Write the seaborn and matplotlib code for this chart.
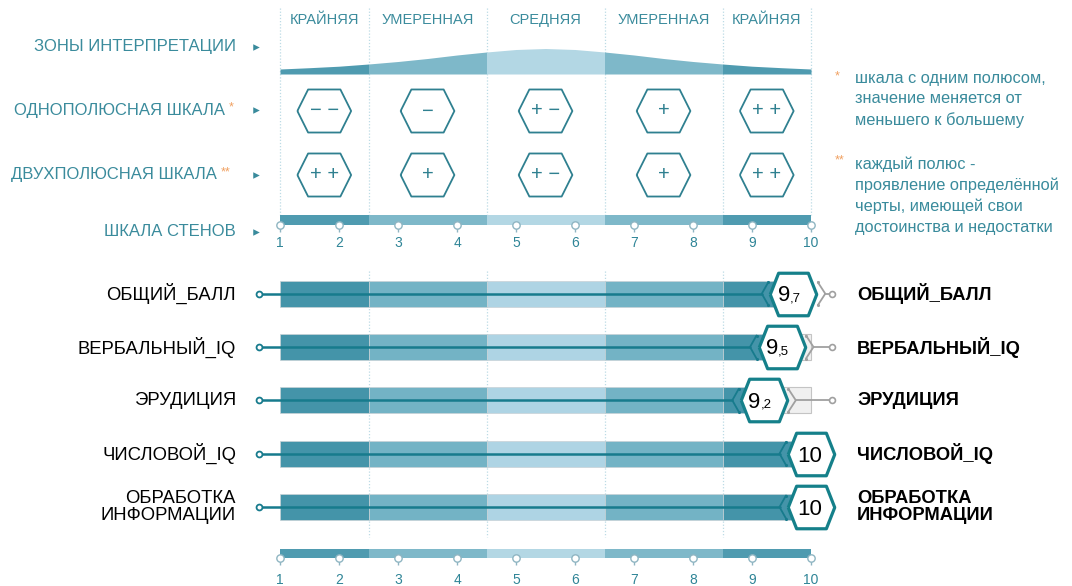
import matplotlib.pyplot as plt
import seaborn as sns

# ============================================================================
# DATA
# ============================================================================
stens = [1, 2, 3, 4, 5, 6, 7, 8, 9, 10]
zone_names = ["КРАЙНЯЯ", "УМЕРЕННАЯ", "СРЕДНЯЯ", "УМЕРЕННАЯ", "КРАЙНЯЯ"]
zone_edges = [1, 2.5, 4.5, 6.5, 8.5, 10]
unipolar_signs = ["− −", "−", "+ −", "+", "+ +"]
bipolar_signs = ["+ +", "+", "+ −", "+", "+ +"]

# bell curve of the interpretation zones (height)
curve_x = [1, 1.5, 2, 2.5, 3, 3.5, 4, 4.5, 5, 5.5, 6, 6.5, 7, 7.5, 8, 8.5, 9, 9.5, 10]
curve_h = [5, 6.3, 7.8, 10, 12.5, 15.5, 19, 22, 24.5, 25.5, 24.5, 22, 19, 15.5, 12.5, 10, 7.8, 6.3, 5]

legend_rows = ["ЗОНЫ ИНТЕРПРЕТАЦИИ", "ОДНОПОЛЮСНАЯ ШКАЛА", "ДВУХПОЛЮСНАЯ ШКАЛА", "ШКАЛА СТЕНОВ"]
legend_marks = ["", "*", "**", ""]
note_one = "шкала с одним полюсом,\nзначение меняется от\nменьшего к большему"
note_two = "каждый полюс -\nпроявление определённой\nчерты, имеющей свои\nдостоинства и недостатки"

scale_names = ["ОБЩИЙ_БАЛЛ", "ВЕРБАЛЬНЫЙ_IQ", "ЭРУДИЦИЯ", "ЧИСЛОВОЙ_IQ", "ОБРАБОТКА\nИНФОРМАЦИИ"]
scores = [9.7, 9.5, 9.2, 10, 10]

# ============================================================================
# STYLE
# ============================================================================
sns.set_theme(style="white")
plt.rcParams['font.family'] = ['Liberation Sans', 'DejaVu Sans']

teal_text = '#3a8b9c'
orange = '#f0a060'
line_teal = '#177b8d'
hex_teal = '#15808a'
bar_colors = ['#4494a9', '#73b3c5', '#aed4e4', '#73b3c5', '#4494a9']
curve_colors = ['#4f9bb0', '#7eb8c9', '#b3d7e4', '#7eb8c9', '#4f9bb0']
sep_color = '#bcdbe5'

fig = plt.figure(figsize=(10.72, 5.86), dpi=100)
ax = fig.add_axes([0, 0, 1, 1])
unit = 59.0            # pixels per sten
px = 1 / unit          # one pixel in sten units
ax.set_xlim(1 - 280 * px, 1 + 792 * px)
ax.set_ylim(586, 0)
ax.axis('off')

zone_mid = [(zone_edges[i] + zone_edges[i + 1]) / 2 for i in range(5)]

# ============================================================================
# TOP LEGEND BLOCK
# ============================================================================
# dotted zone separators
ax.vlines(zone_edges, 8, 215, colors=sep_color, linestyles=(0, (1, 1.5)), lw=0.9, zorder=1)
ax.vlines(zone_edges[1:-1], 271, 537, colors=sep_color, linestyles=(0, (1, 1.5)), lw=0.9, zorder=1)

for name, xm in zip(zone_names, zone_mid):
    ax.text(xm, 20, name, ha='center', va='center', fontsize=10.5, color=teal_text)

# bell curve filled by zones
base = 74
for j in range(5):
    xs = [x for x in curve_x if zone_edges[j] <= x <= zone_edges[j + 1]]
    hs = [h for x, h in zip(curve_x, curve_h) if zone_edges[j] <= x <= zone_edges[j + 1]]
    ax.fill_between(xs, [base] * len(xs), [base - h for h in hs],
                    color=curve_colors[j], lw=0, zorder=2)

# hexagons with signs
hex_top = [(-1, 0), (-0.6, 0.8), (0.6, 0.8), (1, 0), (0.6, -0.8), (-0.6, -0.8), (-1, 0)]
for yrow, signs in [(111, unipolar_signs), (175, bipolar_signs)]:
    ax.scatter(zone_mid, [yrow] * 5, marker=hex_top, s=1500, facecolor='none',
               edgecolor='#2f8090', linewidth=1.3, zorder=3)
    for xm, sg in zip(zone_mid, signs):
        ax.text(xm, yrow, sg, ha='center', va='center', fontsize=14.5, color='#2f8090')

# legend row labels
label_y = [47, 110, 175, 232]
label_right = [236, 225, 216.5, 236]
for name, mark, yl, xr in zip(legend_rows, legend_marks, label_y, label_right):
    xr_s = 1 + (xr - 280) * px
    ax.text(xr_s, yl, name, ha='right', va='center', fontsize=12, color=teal_text)
    if mark:
        ax.text(xr_s + 4 * px, yl - 3, mark, ha='left', va='center', fontsize=9, color=orange)
ax.scatter([1 - 24 * px] * 4, label_y, marker='>', s=22, color=teal_text, lw=0, zorder=3)

# notes on the right
ax.text(1 + 555 * px, 76, "*", ha='left', va='center', fontsize=9, color=orange)
ax.text(1 + 575 * px, 99.5, note_one, ha='left', va='center', fontsize=11.8,
        color=teal_text, linespacing=1.45)
ax.text(1 + 555 * px, 160, "**", ha='left', va='center', fontsize=9, color=orange)
ax.text(1 + 575 * px, 195.5, note_two, ha='left', va='center', fontsize=11.8,
        color=teal_text, linespacing=1.45)


# ============================================================================
# STEN SCALES
# ============================================================================
def sten_scale(yc, h, ylab):
    for j in range(5):
        ax.barh(yc, zone_edges[j + 1] - zone_edges[j], left=zone_edges[j], height=h,
                color=curve_colors[j], lw=0, zorder=2)
    ycirc = yc + h / 2
    ax.vlines(stens, ycirc, ycirc + 7, colors='#8fb5c2', lw=1, zorder=3)
    sns.scatterplot(x=stens, y=[ycirc] * 10, ax=ax, s=28, color='white',
                    edgecolor='#8fb5c2', linewidth=1, zorder=4, legend=False)
    for s in stens:
        ax.text(s, ylab, str(s), ha='center', va='center', fontsize=10, color='#2f8597')


sten_scale(220, 10, 243)
sten_scale(553.5, 9, 580)

# ============================================================================
# SCORE ROWS
# ============================================================================
row_y = [293.7, 347, 400.3, 453.6, 507]
bar_h = 26
hex_low = [(-1, 0), (-0.64, 0.915), (0.64, 0.915), (1, 0), (0.64, -0.915), (-0.64, -0.915), (-1, 0)]

for name, score, y in zip(scale_names, scores, row_y):
    # grey remainder
    if score < 10:
        ax.barh(y, 10 - score, left=score, height=bar_h, color='#f0f0f0',
                edgecolor='#c4c4c4', lw=0.8, zorder=2)
    # zone coloured fill up to the score
    for j in range(5):
        lo, hi = zone_edges[j], min(zone_edges[j + 1], score)
        if hi > lo:
            ax.barh(y, hi - lo, left=lo, height=bar_h, color=bar_colors[j],
                    edgecolor='#c8d2d6', lw=0.5, zorder=2)

    # line from the left marker to the chevron
    apex_l = score - 31.5 * px
    arm_l = score - 25 * px
    ax.plot([1 - 21 * px, apex_l], [y, y], color=line_teal, lw=1.8, zorder=3)
    ax.plot([arm_l, apex_l, arm_l], [y - 11.5, y, y + 11.5], color=line_teal, lw=1.3, zorder=3)
    ax.scatter([arm_l, arm_l], [y - 11.5, y + 11.5], s=5, color=line_teal, lw=0, zorder=3)
    ax.scatter([1 - 21 * px], [y], s=18, facecolor='white', edgecolor=line_teal,
               linewidth=1.3, zorder=4)

    # grey connector to the right (hidden behind the hexagon at the maximum)
    if score < 10:
        apex_r = score + 32 * px
        arm_r = score + 24.5 * px
        ax.plot([arm_r, apex_r, arm_r], [y - 11.5, y, y + 11.5], color='#a0a0a0', lw=1.3, zorder=3)
        ax.plot([apex_r, 10 + 20.5 * px], [y, y], color='#a0a0a0', lw=1.3, zorder=3)
        ax.scatter([arm_r, arm_r], [y - 11.5, y + 11.5], s=5, color='#a0a0a0', lw=0, zorder=3)
        ax.scatter([10 + 20.5 * px], [y], s=18, facecolor='white', edgecolor='#a0a0a0',
                   linewidth=1.2, zorder=3)

    # hexagon with the score
    ax.scatter([score], [y], marker=hex_low, s=1120, facecolor='white',
               edgecolor=hex_teal, linewidth=2.3, zorder=5)
    whole = int(score)
    frac = round((score - whole) * 10)
    if frac:
        ax.annotate(str(whole), xy=(score, y), xytext=(-2.4, -5.3), textcoords='offset points',
                    ha='right', va='baseline', fontsize=16, color='black', zorder=6)
        ax.annotate(f",{frac}", xy=(score, y), xytext=(-2.4, -5.3), textcoords='offset points',
                    ha='left', va='baseline', fontsize=9.5, color='black', zorder=6)
    else:
        ax.annotate(str(whole), xy=(score, y), xytext=(-1.2, -5.8), textcoords='offset points',
                    ha='center', va='baseline', fontsize=16, color='black', zorder=6)

    # labels on both sides
    ax.text(1 - 44 * px, y, name, ha='right', va='center', fontsize=13.3,
            color='black', linespacing=1.05)
    ax.text(10 + 46 * px, y, name, ha='left', va='center', fontsize=13.2,
            color='black', fontweight='bold', linespacing=1.0)

# ============================================================================
# SAVE
# ============================================================================
plt.savefig("out.png", dpi=100)
